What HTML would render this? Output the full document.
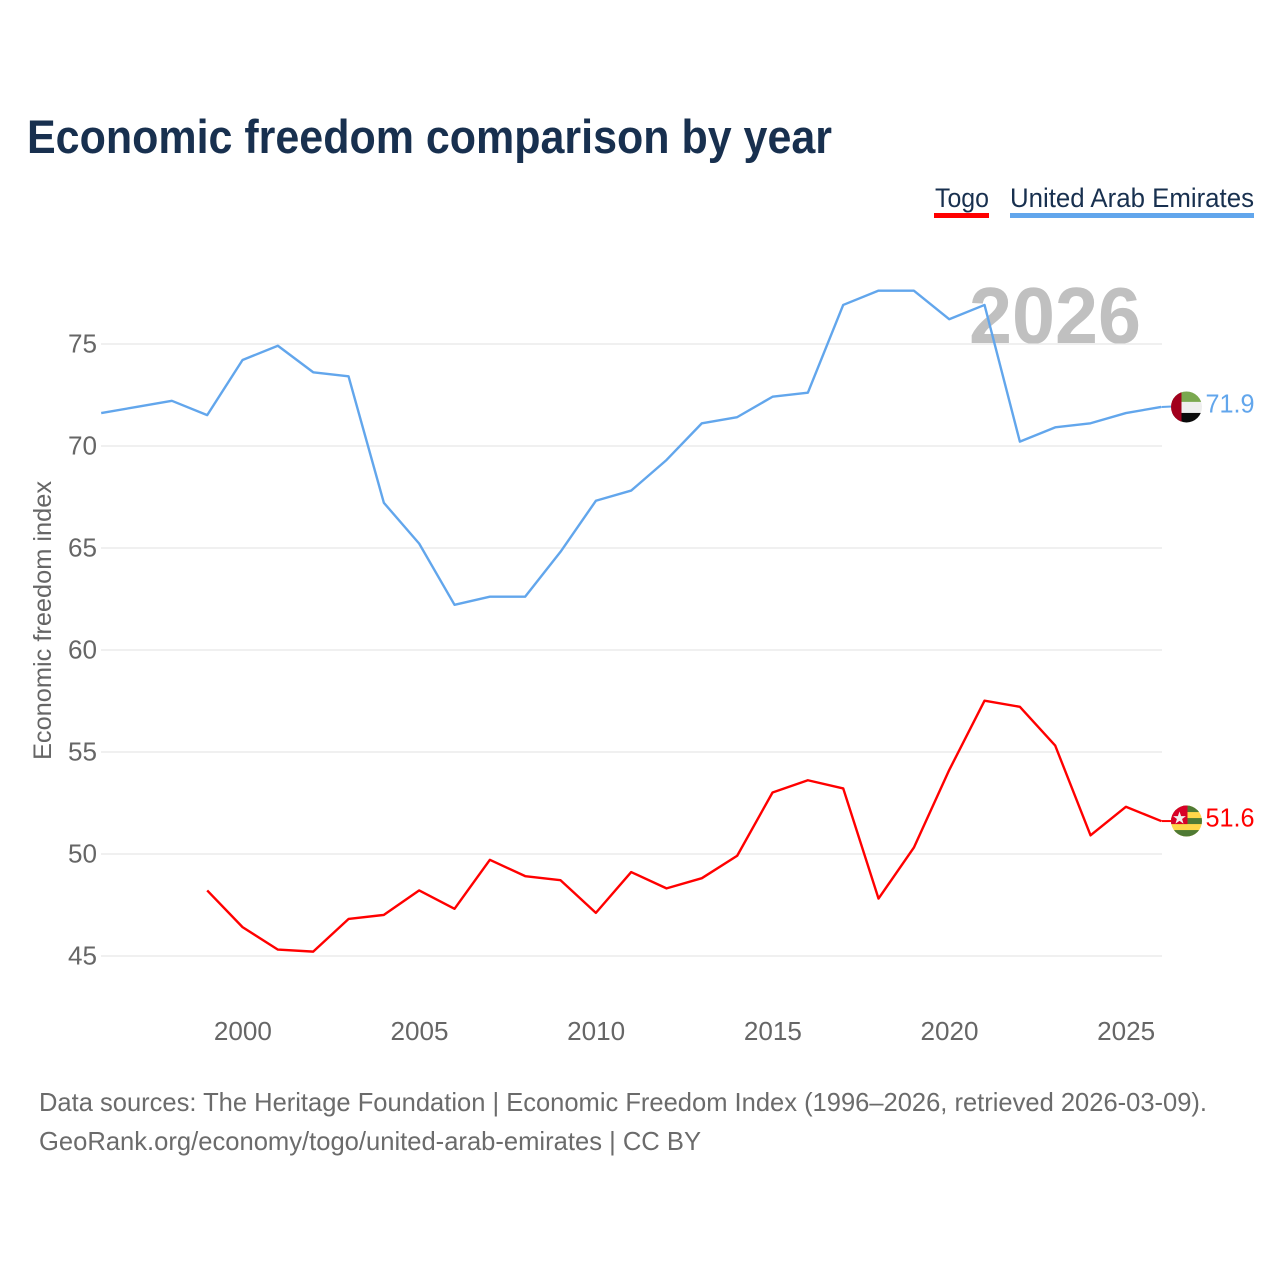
<!DOCTYPE html>
<html lang="en">
<head>
<meta charset="utf-8">
<title>Economic freedom comparison by year</title>
<style>
html,body{margin:0;padding:0;background:#fff;width:1280px;height:1280px;overflow:hidden}
svg{display:block}
text{font-family:"Liberation Sans",sans-serif}
</style>
</head>
<body>
<svg id="chart" xmlns="http://www.w3.org/2000/svg" width="1280" height="1280" viewBox="0 0 1280 1280">
  <defs>
    <clipPath id="uae-clip"><circle id="uae-clip-circle" r="15.5" cx="0" cy="0"/></clipPath>
    <clipPath id="togo-clip"><circle id="togo-clip-circle" r="15.5" cx="0" cy="0"/></clipPath>
  </defs>
  <text x="27" y="153" font-size="47" font-weight="700" fill="#18304f" textLength="805" lengthAdjust="spacingAndGlyphs">Economic freedom comparison by year</text>

  <text x="935" y="207" font-size="27" fill="#18304f" textLength="54" lengthAdjust="spacingAndGlyphs">Togo</text>
  <rect x="934" y="213" width="55" height="5" fill="#ff0000"/>
  <text x="1010" y="207" font-size="27" fill="#18304f" textLength="244" lengthAdjust="spacingAndGlyphs">United Arab Emirates</text>
  <rect x="1010" y="213" width="244" height="5" fill="#62a6ec"/>

  <text x="969" y="343" font-size="80" font-weight="700" fill="#c0c0c0" textLength="172" lengthAdjust="spacingAndGlyphs">2026</text>

  <g id="grid"></g>
  <g id="y-ticks"></g>
  <g id="x-ticks"></g>

  <text transform="translate(51 760) rotate(-90)" x="0" y="0" font-size="25" fill="#666666" textLength="279" lengthAdjust="spacingAndGlyphs">Economic freedom index</text>

  <g id="series"></g>
  <g id="flags"></g>

  <text x="39" y="1111" font-size="26" fill="#6b6b6b" textLength="1168" lengthAdjust="spacingAndGlyphs">Data sources: The Heritage Foundation | Economic Freedom Index (1996–2026, retrieved 2026-03-09).</text>
  <text x="39" y="1150" font-size="26" fill="#6b6b6b" textLength="662" lengthAdjust="spacingAndGlyphs">GeoRank.org/economy/togo/united-arab-emirates | CC BY</text>
</svg>
<script>
const yTickValues = [45, 50, 55, 60, 65, 70, 75];
const xTickValues = [2000, 2005, 2010, 2015, 2020, 2025];
const uaeYears = [1996,1997,1998,1999,2000,2001,2002,2003,2004,2005,2006,2007,2008,2009,2010,2011,2012,2013,2014,2015,2016,2017,2018,2019,2020,2021,2022,2023,2024,2025,2026];
const uaeValues = [71.6,71.9,72.2,71.5,74.2,74.9,73.6,73.4,67.2,65.2,62.2,62.6,62.6,64.8,67.3,67.8,69.3,71.1,71.4,72.4,72.6,76.9,77.6,77.6,76.2,76.9,70.2,70.9,71.1,71.6,71.9];
const togoYears = [1999,2000,2001,2002,2003,2004,2005,2006,2007,2008,2009,2010,2011,2012,2013,2014,2015,2016,2017,2018,2019,2020,2021,2022,2023,2024,2025,2026];
const togoValues = [48.2,46.4,45.3,45.2,46.8,47.0,48.2,47.3,49.7,48.9,48.7,47.1,49.1,48.3,48.8,49.9,53.0,53.6,53.2,47.8,50.3,54.1,57.5,57.2,55.3,50.9,52.3,51.6];

const NS = 'http://www.w3.org/2000/svg';
const xScale = function (year) { return 101.2 + (year - 1996) * (1161.2 - 101.2) / 30; };
const yScale = function (value) { return 955.7 - (value - 45) * (955.7 - 343.7) / 30; };

function make(tag, attrs, parent) {
  const el = document.createElementNS(NS, tag);
  Object.keys(attrs).forEach(function (k) { el.setAttribute(k, attrs[k]); });
  parent.appendChild(el);
  return el;
}

const gridGroup = document.getElementById('grid');
const yTickGroup = document.getElementById('y-ticks');
yTickValues.forEach(function (v) {
  const line = make('line', {x1: 101, x2: 1162, y1: yScale(v) + 0.3, y2: yScale(v) + 0.3, stroke: '#e8e8e8', 'stroke-width': 1.3}, gridGroup);
  
  
  const label = make('text', {x: 97, y: yScale(v) + 8.8, 'text-anchor': 'end', 'font-size': 26, fill: '#666666', textLength: 29, lengthAdjust: 'spacingAndGlyphs'}, yTickGroup);
  
  
  label.textContent = v;
});

const xTickGroup = document.getElementById('x-ticks');
xTickValues.forEach(function (v) {
  const label = make('text', {x: xScale(v) - 28.7, y: 1040, 'font-size': 26, fill: '#666666', textLength: 58, lengthAdjust: 'spacingAndGlyphs'}, xTickGroup);
  
  
  label.textContent = v;
});

function linePoints(years, values) {
  return years.map(function (y, i) { return xScale(y).toFixed(2) + ',' + yScale(values[i]).toFixed(2); }).join(' ');
}

const seriesGroup = document.getElementById('series');
const uaeLine = make('polyline', {points: linePoints(uaeYears, uaeValues), fill: 'none', stroke: '#62a6ec', 'stroke-width': 2.4, 'stroke-linejoin': 'round'}, seriesGroup);


const togoLine = make('polyline', {points: linePoints(togoYears, togoValues), fill: 'none', stroke: '#ff0000', 'stroke-width': 2.4, 'stroke-linejoin': 'round'}, seriesGroup);



const flagsGroup = document.getElementById('flags');

// United Arab Emirates end label
const uaeLast = uaeValues[uaeValues.length - 1];
const uaeY = yScale(uaeLast);
const uaeConnector = make('line', {x1: 1161.5, x2: 1172, y1: uaeY, y2: uaeY - 0.5, stroke: '#62a6ec', 'stroke-width': 2}, flagsGroup);


const uaeFlag = make('g', {transform: 'translate(1186.5 ' + uaeY + ')', 'clip-path': 'url(#uae-clip)'}, flagsGroup);


make('rect', {x: -16, y: -16, width: 32, height: 11, fill: '#7aa84f'}, uaeFlag);
make('rect', {x: -16, y: -5, width: 32, height: 11, fill: '#eeeeee'}, uaeFlag);
make('rect', {x: -16, y: 6, width: 32, height: 10, fill: '#0a0a0a'}, uaeFlag);
make('rect', {x: -16, y: -16, width: 11, height: 32, fill: '#a2001d'}, uaeFlag);
const uaeValueLabel = make('text', {x: 1205.5, y: uaeY + 5.5, 'font-size': 26, fill: '#62a6ec', textLength: 49, lengthAdjust: 'spacingAndGlyphs'}, flagsGroup);


uaeValueLabel.textContent = uaeLast.toFixed(1);

// Togo end label
const togoLast = togoValues[togoValues.length - 1];
const togoY = yScale(togoLast);
const togoConnector = make('line', {x1: 1161.5, x2: 1172, y1: togoY, y2: togoY, stroke: '#ff0000', 'stroke-width': 2}, flagsGroup);


const togoFlag = make('g', {transform: 'translate(1186.5 ' + togoY + ')', 'clip-path': 'url(#togo-clip)'}, flagsGroup);


make('rect', {x: -16, y: -16, width: 32, height: 32, fill: '#ffd74a'}, togoFlag);
make('rect', {x: -16, y: -16, width: 32, height: 7, fill: '#4f7a34'}, togoFlag);
make('rect', {x: -16, y: -3, width: 32, height: 6, fill: '#4f7a34'}, togoFlag);
make('rect', {x: -16, y: 9, width: 32, height: 7, fill: '#4f7a34'}, togoFlag);
make('rect', {x: -16, y: -16, width: 17, height: 19, fill: '#d80027'}, togoFlag);
make('polygon', {points: '-7,-9.5 -5.4,-4.9 -0.6,-4.9 -4.4,-2 -3,2.6 -7,-0.2 -11,2.6 -9.6,-2 -13.4,-4.9 -8.6,-4.9', fill: '#f0f0f0'}, togoFlag);
const togoValueLabel = make('text', {x: 1205.5, y: togoY + 5.5, 'font-size': 26, fill: '#ff0000', textLength: 49, lengthAdjust: 'spacingAndGlyphs'}, flagsGroup);


togoValueLabel.textContent = togoLast.toFixed(1);
</script>
</body>
</html>
